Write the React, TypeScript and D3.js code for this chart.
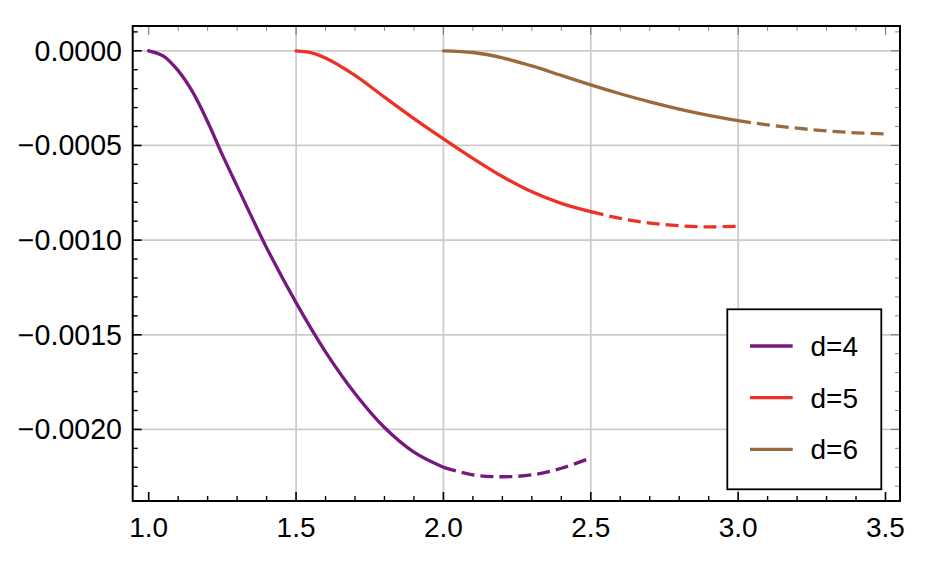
import React from "react";
import * as d3 from "d3";

// ---- data ----
const xD4 = [1.0, 1.05, 1.1, 1.15, 1.2, 1.25, 1.3, 1.4, 1.5, 1.6, 1.7, 1.8, 1.9, 2.0, 2.1, 2.2, 2.3, 2.4, 2.5];
const yD4 = [0, -0.000028, -0.000105, -0.00022, -0.000375, -0.00055, -0.000715, -0.00104, -0.00133, -0.00159, -0.00181, -0.00199, -0.00212, -0.0022, -0.00224, -0.00225, -0.00224, -0.002205, -0.00215];

const xD5 = [1.5, 1.55, 1.6, 1.7, 1.8, 1.9, 2.0, 2.1, 2.2, 2.3, 2.4, 2.5, 2.6, 2.7, 2.8, 2.9, 3.0];
const yD5 = [0, -0.00001, -0.000038, -0.00013, -0.000245, -0.000358, -0.000465, -0.000568, -0.000664, -0.000745, -0.000806, -0.00085, -0.000885, -0.00091, -0.000924, -0.00093, -0.000927];

const xD6 = [2.0, 2.1, 2.2, 2.3, 2.4, 2.5, 2.6, 2.7, 2.8, 2.9, 3.0, 3.1, 3.2, 3.3, 3.4, 3.5];
const yD6 = [0, -0.000009, -0.000037, -0.00008, -0.00013, -0.00018, -0.000227, -0.00027, -0.000308, -0.000341, -0.000369, -0.000391, -0.000409, -0.000423, -0.000433, -0.000439];

const seriesNames = ["d=4", "d=5", "d=6"];
const solidEnds = [2.0, 2.5, 3.0];

const xTicks = [1.0, 1.5, 2.0, 2.5, 3.0, 3.5];
const xTickLabels = ["1.0", "1.5", "2.0", "2.5", "3.0", "3.5"];
const xGrid = [1.5, 2.0, 2.5, 3.0];
const yTicks = [0, -0.0005, -0.001, -0.0015, -0.002];
const yTickLabels = ["0.0000", "\u22120.0005", "\u22120.0010", "\u22120.0015", "\u22120.0020"];

// ---- styles ----
const colors = ["#76187f", "#ec3226", "#9a6a3c"];
const W = 926, H = 566;
const L = 132.7, R = 900, T = 26, B = 501;
const FONT = "'Liberation Sans', Arial, sans-serif";

export default function App() {
  const x = d3.scaleLinear().domain([0.9457, 3.5492]).range([L, R]);
  const y = d3.scaleLinear().domain([-0.002378, 0.000131]).range([B, T]);

  const line = d3
    .line<[number, number]>()
    .x((d) => x(d[0]))
    .y((d) => y(d[1]))
    .curve(d3.curveCatmullRom.alpha(0.5));

  const allX = [xD4, xD5, xD6];
  const allY = [yD4, yD5, yD6];

  const xMinor = d3.range(10, 36).map((v) => v / 10).filter((v) => !xTicks.some((t) => Math.abs(t - v) < 1e-9));
  const yMinor = d3.range(-23, 2).map((v) => v / 10000).filter((v) => !yTicks.some((t) => Math.abs(t - v) < 1e-12));

  return (
    <svg width={W} height={H} style={{ position: "absolute", left: 0, top: 0, background: "#fff" }} fontFamily={FONT}>
      <rect x={0} y={0} width={W} height={H} fill="#fff" />
      {/* grid */}
      {xGrid.map((v) => (
        <line key={"gx" + v} x1={x(v)} x2={x(v)} y1={T} y2={B} stroke="#cbcbcb" strokeWidth={1.7} />
      ))}
      {yTicks.map((v) => (
        <line key={"gy" + v} x1={L} x2={R} y1={y(v)} y2={y(v)} stroke="#cbcbcb" strokeWidth={1.7} />
      ))}
      {/* curves */}
      {allX.map((xs, i) => {
        const pts: [number, number][] = xs.map((xv, j) => [xv, allY[i][j]]);
        const solid = pts.filter((p) => p[0] <= solidEnds[i] + 1e-9);
        const dashed = pts.filter((p) => p[0] >= solidEnds[i] - 1e-9);
        return (
          <g key={"s" + i}>
            <path d={line(solid) || ""} fill="none" stroke={colors[i]} strokeWidth={3.3} strokeLinecap="round" />
            <path d={line(dashed) || ""} fill="none" stroke={colors[i]} strokeWidth={3.3} strokeDasharray="13 6" />
          </g>
        );
      })}
      {/* ticks bottom/top */}
      {xTicks.map((v) => (
        <g key={"xt" + v}>
          <line x1={x(v)} x2={x(v)} y1={B} y2={B - 9} stroke="#000" strokeWidth={1.6} />
          <line x1={x(v)} x2={x(v)} y1={T} y2={T + 9} stroke="#777" strokeWidth={1.1} />
        </g>
      ))}
      {xMinor.map((v) => (
        <g key={"xm" + v}>
          <line x1={x(v)} x2={x(v)} y1={B} y2={B - 5} stroke="#000" strokeWidth={1.4} />
          <line x1={x(v)} x2={x(v)} y1={T} y2={T + 5} stroke="#888" strokeWidth={1} />
        </g>
      ))}
      {yTicks.map((v) => (
        <g key={"yt" + v}>
          <line x1={L} x2={L + 9} y1={y(v)} y2={y(v)} stroke="#000" strokeWidth={1.6} />
          <line x1={R} x2={R - 9} y1={y(v)} y2={y(v)} stroke="#777" strokeWidth={1.1} />
        </g>
      ))}
      {yMinor.map((v) => (
        <g key={"ym" + v}>
          <line x1={L} x2={L + 5} y1={y(v)} y2={y(v)} stroke="#000" strokeWidth={1.4} />
          <line x1={R} x2={R - 5} y1={y(v)} y2={y(v)} stroke="#888" strokeWidth={1} />
        </g>
      ))}
      {/* frame */}
      <rect x={L} y={T} width={R - L} height={B - T} fill="none" stroke="#000" strokeWidth={2} />
      {/* labels */}
      {xTicks.map((v, i) => (
        <text key={"xl" + v} x={x(v)} y={537} textAnchor="middle" fontSize={28} fill="#000">
          {xTickLabels[i]}
        </text>
      ))}
      {yTicks.map((v, i) => (
        <text key={"yl" + v} x={122} y={y(v) + 10} textAnchor="end" fontSize={28.6} fill="#000">
          {yTickLabels[i]}
        </text>
      ))}
      {/* legend */}
      <rect x={727.3} y={309.3} width={154} height={180} fill="#fff" stroke="#000" strokeWidth={1.8} />
      {seriesNames.map((n, i) => {
        const ly = 346 + i * 51.7;
        return (
          <g key={"lg" + i}>
            <line x1={750} x2={792.7} y1={ly} y2={ly} stroke={colors[i]} strokeWidth={3.3} />
            <text x={810.5} y={ly + 10} fontSize={28} fill="#000">
              {n}
            </text>
          </g>
        );
      })}
    </svg>
  );
}
